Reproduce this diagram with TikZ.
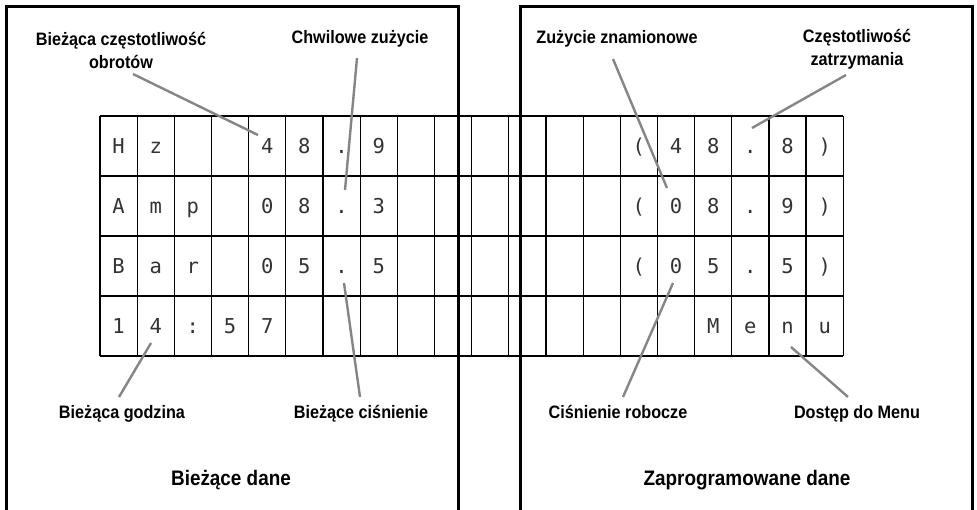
\documentclass[tikz,border=0pt]{standalone}
\usepackage{fontspec}
\setmainfont{Liberation Sans}
\newfontfamily\lblfont[FakeStretch=0.9]{Liberation Sans}
\newfontfamily\lcdfont{DejaVu Sans Mono}

\begin{document}
\begin{tikzpicture}[x=1pt,y=-1pt,
    panel/.style={line width=3pt},
    cellline/.style={line width=1.3pt},
    glyph/.style={font=\lcdfont\fontsize{20.5}{20.5}\selectfont,text=black!80,
      inner sep=0pt,text height=15pt,text depth=0pt},
    lbl/.style={font=\lblfont\bfseries\fontsize{18}{23}\selectfont,align=center,inner sep=1pt},
    ttl/.style={font=\lblfont\bfseries\fontsize{21}{24}\selectfont,inner sep=1pt,anchor=base},
    leader/.style={draw=black!48,line width=2.4pt}]
  \useasboundingbox (0,0) rectangle (977,509);
  % LCD grid, 20 x 4
  \foreach \i in {0,...,20}
    \draw[cellline] ({100+37.165*\i},116) -- ({100+37.165*\i},356);
  \foreach \j in {0,...,4}
    \draw[cellline] (100,{116+60*\j}) -- (843.3,{116+60*\j});
  \foreach \r/\c/\ch in {1/0/H,1/1/z,1/4/4,1/5/8,1/6/.,1/7/9,
      1/14/{(},1/15/4,1/16/8,1/17/.,1/18/8,1/19/{)},
      2/0/A,2/1/m,2/2/p,2/4/0,2/5/8,2/6/.,2/7/3,
      2/14/{(},2/15/0,2/16/8,2/17/.,2/18/9,2/19/{)},
      3/0/B,3/1/a,3/2/r,3/4/0,3/5/5,3/6/.,3/7/5,
      3/14/{(},3/15/0,3/16/5,3/17/.,3/18/5,3/19/{)},
      4/0/1,4/1/4,4/2/:,4/3/5,4/4/7,
      4/16/M,4/17/e,4/18/n,4/19/u}
    \node[glyph] (g-\r-\c) at ({100+37.165*(\c+0.5)},{86+60*\r}) {\ch};
  % the two panels
  \draw[panel] (6,515) -- (6,6) -- (458,6) -- (458,515);
  \draw[panel] (520,515) -- (520,6) -- (972,6) -- (972,515);
  % labels
  \node[lbl] (freq) at (121,50) {Bieżąca częstotliwość\\obrotów};
  \node[lbl,anchor=base] (amps) at (360,43) {Chwilowe zużycie};
  \node[lbl,anchor=base] (rated) at (617,43) {Zużycie znamionowe};
  \node[lbl] (stopf) at (857,49) {Częstotliwość\\zatrzymania};
  \node[lbl,anchor=base] (clock) at (122,418) {Bieżąca godzina};
  \node[lbl,anchor=base] (press) at (361,418) {Bieżące ciśnienie};
  \node[lbl,anchor=base] (work) at (618,418) {Ciśnienie robocze};
  \node[lbl,anchor=base] (menu) at (857,418) {Dostęp do Menu};
  \node[ttl] (curdata) at (231,485) {Bieżące dane};
  \node[ttl] (progdata) at (747,485) {Zaprogramowane dane};
  % leader ends
  \coordinate (pFreq) at (258,135);
  \coordinate (pAmps) at (345,190);
  \coordinate (pRated) at (667,188);
  \coordinate (pStop) at (752,128);
  \coordinate (pClock) at (151,343);
  \coordinate (pPress) at (344,283);
  \coordinate (pWork) at (673,283);
  \coordinate (pMenu) at (791,347);
  \draw[leader] (freq) ++(12,24) -- (pFreq);
  \draw[leader] (amps.base) ++(-3,15) -- (pAmps);
  \draw[leader] (rated.base) ++(-4,16) -- (pRated);
  \draw[leader] (stopf) ++(-11,26) -- (pStop);
  \draw[leader] (clock.base) ++(-3,-21) -- (pClock);
  \draw[leader] (press.base) ++(-1,-21) -- (pPress);
  \draw[leader] (work.base) ++(5,-21) -- (pWork);
  \draw[leader] (menu.base) ++(-9,-21) -- (pMenu);
\end{tikzpicture}
\end{document}
